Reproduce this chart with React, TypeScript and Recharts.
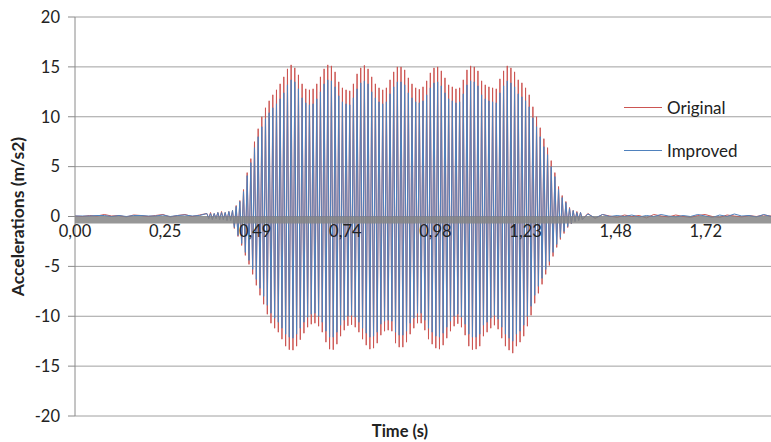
import React from 'react';
import {
  LineChart, Line, XAxis, YAxis, CartesianGrid, ReferenceLine, ReferenceDot, Legend,
} from 'recharts';

// ---- sampling grid of the excitation (s) ----
const ACTIVE_START = 0.36;   // first positive peak of the burst
const HALF_PERIOD = 0.005;   // peak -> trough spacing (~100 Hz)
const QUIET_STEP = 0.02;
const PRE_START = 0.0;
const POST_START = 1.40;

// ---- x tick marks (category labels of the original) ----
const TICK_VALUES = [0, 0.246, 0.492, 0.738, 0.984, 1.23, 1.476, 1.722];
const TICK_LABELS = ['0,00', '0,25', '0,49', '0,74', '0,98', '1,23', '1,48', '1,72'];
const Y_TICKS = [-20, -15, -10, -5, 0, 5, 10, 15, 20];

// ---- quiet part before the burst ----
const preOriginal = [0.05, 0.0, 0.1, 0.05, 0.2, 0.05, 0.1, -0.05, 0.15, 0.1, 0.0, 0.1, 0.2, -0.05, 0.1, 0.2, 0.0, 0.15];
const preImproved = [0.05, 0.05, 0.05, 0.1, 0.1, 0.0, 0.1, 0.0, 0.1, 0.1, 0.05, 0.05, 0.15, 0.0, 0.1, 0.15, 0.05, 0.1];

// ---- burst: positive peaks / negative troughs per cycle ----
const originalPeaks = [
  0.3, 0.4, 0.3, 0.4, 0.5, 0.4, 0.5, 0.6, 1.1, 1.6,
  2.7, 4.4, 5.8, 7.5, 8.8, 10.0, 10.9, 11.6, 12.2, 12.7,
  13.3, 14.0, 14.8, 15.2, 14.9, 14.2, 13.3, 12.8, 12.7, 12.8,
  13.3, 14.0, 14.8, 15.2, 15.1, 14.5, 13.5, 12.9, 12.7, 12.6,
  13.3, 14.3, 14.9, 15.15, 14.8, 14.0, 13.3, 12.9, 12.7, 12.9,
  13.7, 14.5, 15.0, 15.0, 14.7, 13.9, 13.3, 12.9, 12.75, 13.0,
  13.6, 14.4, 14.9, 15.0, 14.6, 13.9, 13.2, 13.0, 12.8, 12.9,
  13.7, 14.7, 15.1, 15.0, 14.6, 13.6, 13.2, 13.0, 12.9, 12.8,
  13.8, 14.6, 15.1, 14.9, 14.5, 13.7, 13.4, 12.9, 12.2, 11.0,
  10.0, 8.9, 7.8, 6.9, 5.6, 4.4, 3.0, 2.1, 1.5, 0.9,
  0.6, 0.5, 0.4,
];
const originalTroughs = [
  -0.2, -0.3, -0.2, -0.3, -0.3, -0.4, -0.4, -1.2, -2.0, -2.9,
  -3.9, -4.8, -5.8, -6.9, -7.9, -8.8, -9.8, -10.7, -11.2, -11.6,
  -12.3, -13.0, -13.35, -13.4, -13.0, -12.35, -11.7, -11.1, -10.8, -10.7,
  -11.0, -11.6, -12.6, -13.3, -13.35, -12.8, -12.0, -11.4, -10.95, -10.85,
  -11.1, -11.6, -12.3, -12.9, -13.3, -13.2, -12.7, -11.9, -11.5, -11.4,
  -11.5, -12.7, -13.1, -13.1, -12.6, -11.8, -11.2, -10.7, -10.7, -11.4,
  -12.3, -12.8, -13.2, -13.3, -12.9, -12.2, -11.5, -11.0, -10.75, -11.1,
  -11.9, -13.0, -13.35, -13.3, -13.0, -12.0, -11.6, -11.2, -10.9, -11.3,
  -12.2, -13.0, -13.4, -13.7, -13.0, -12.6, -12.0, -11.0, -9.9, -8.7,
  -7.7, -6.8, -5.8, -4.9, -4.0, -3.1, -2.3, -1.7, -1.1, -0.75,
  -0.5, -0.4, -0.3,
];
const improvedPeaks = [
  0.3, 0.3, 0.3, 0.4, 0.4, 0.4, 0.5, 0.6, 1.0, 1.5,
  2.5, 4.1, 5.4, 6.9, 8.0, 9.0, 9.8, 10.4, 10.9, 11.3,
  11.8, 12.4, 13.2, 13.7, 13.5, 12.8, 11.9, 11.4, 11.2, 11.3,
  11.8, 12.5, 13.3, 13.7, 13.6, 13.0, 12.1, 11.5, 11.3, 11.2,
  11.9, 12.8, 13.4, 13.6, 13.3, 12.5, 11.9, 11.5, 11.3, 11.5,
  12.3, 13.0, 13.5, 13.5, 13.2, 12.4, 11.9, 11.5, 11.4, 11.6,
  12.2, 12.9, 13.4, 13.5, 13.1, 12.4, 11.8, 11.6, 11.4, 11.5,
  12.3, 13.2, 13.6, 13.5, 13.1, 12.2, 11.8, 11.6, 11.5, 11.4,
  12.4, 13.1, 13.6, 13.4, 13.0, 12.3, 12.0, 11.6, 11.0, 9.9,
  9.0, 8.0, 7.0, 6.2, 5.0, 4.0, 2.7, 1.9, 1.4, 0.8,
  0.6, 0.4, 0.4,
];
const improvedTroughs = [
  -0.2, -0.3, -0.2, -0.3, -0.3, -0.4, -0.4, -1.1, -1.9, -2.7,
  -3.6, -4.4, -5.3, -6.3, -7.2, -8.0, -8.9, -9.7, -10.2, -10.6,
  -11.2, -11.8, -12.1, -12.2, -11.8, -11.2, -10.6, -10.1, -9.8, -9.7,
  -10.0, -10.6, -11.5, -12.1, -12.1, -11.6, -10.9, -10.4, -10.0, -9.9,
  -10.1, -10.6, -11.2, -11.7, -12.1, -12.0, -11.6, -10.8, -10.5, -10.4,
  -10.5, -11.6, -11.9, -11.9, -11.5, -10.7, -10.2, -9.7, -9.7, -10.4,
  -11.2, -11.6, -12.0, -12.1, -11.7, -11.1, -10.5, -10.0, -9.8, -10.1,
  -10.8, -11.8, -12.1, -12.1, -11.8, -10.9, -10.6, -10.2, -9.9, -10.3,
  -11.1, -11.8, -12.2, -12.5, -11.8, -11.5, -10.9, -10.0, -9.0, -7.9,
  -7.0, -6.2, -5.3, -4.5, -3.6, -2.8, -2.1, -1.5, -1.0, -0.7,
  -0.5, -0.4, -0.3,
];

// ---- quiet part after the burst ----
const postOriginal = [0.3, -0.2, 0.2, 0.05, -0.1, 0.15, 0.0, 0.1, -0.15, 0.2, 0.05, -0.05, 0.15, 0.0, -0.1, 0.1, 0.2, 0.0, -0.1, 0.15, 0.05, -0.05, 0.1, 0.0, 0.15, 0.05];
const postImproved = [0.25, -0.15, 0.2, 0.0, 0.1, 0.0, 0.15, -0.05, 0.1, 0.0, 0.2, 0.05, -0.05, 0.1, 0.0, 0.2, 0.05, -0.1, 0.15, 0.0, 0.25, 0.05, 0.1, -0.05, 0.2, 0.0];

type Row = { t: number; original: number; improved: number };
const data: Row[] = [];
preOriginal.forEach((v, i) => {
  data.push({ t: +(PRE_START + i * QUIET_STEP).toFixed(4), original: v, improved: preImproved[i] });
});
originalPeaks.forEach((v, k) => {
  data.push({ t: +(ACTIVE_START + 2 * k * HALF_PERIOD).toFixed(4), original: v, improved: improvedPeaks[k] });
  data.push({ t: +(ACTIVE_START + (2 * k + 1) * HALF_PERIOD).toFixed(4), original: originalTroughs[k], improved: improvedTroughs[k] });
});
postOriginal.forEach((v, i) => {
  data.push({ t: +(POST_START + i * QUIET_STEP).toFixed(4), original: v, improved: postImproved[i] });
});

const RED = '#cc5552';
const BLUE = '#4f81bd';
const FONT = 'Lato, "Open Sans", sans-serif';

const LegendBox = () => (
  <div style={{ fontFamily: FONT, fontSize: 17, color: '#222' }}>
    {[{ name: 'Original', color: RED }, { name: 'Improved', color: BLUE }].map((e) => (
      <div key={e.name} style={{ display: 'flex', alignItems: 'center', height: 43 }}>
        <div style={{ width: 38, height: 0, borderTop: `1.5px solid ${e.color}`, marginRight: 5 }} />
        <span>{e.name}</span>
      </div>
    ))}
  </div>
);

const YTitle = (props: any) => {
  const vb = props.viewBox;
  const cx = vb.x + 17;
  const cy = vb.y + vb.height / 2;
  return (
    <text x={cx} y={cy} transform={`rotate(-90, ${cx}, ${cy})`} textAnchor="middle" dominantBaseline="central"
      fontFamily={FONT} fontWeight="bold" fontSize={17.5} fill="#222">
      Accelerations (m/s2)
    </text>
  );
};

const XTitle = (props: any) => {
  const vb = props.viewBox;
  return (
    <text x={vb.x + 325} y={vb.y + vb.height - 5} textAnchor="middle"
      fontFamily={FONT} fontWeight="bold" fontSize={16.5} fill="#222">
      Time (s)
    </text>
  );
};

export default function App() {
  return (
    <div style={{ position: 'absolute', left: 0, top: 0, width: 771, height: 442, background: '#fff' }}>
      <LineChart width={771} height={442} data={data} margin={{ top: 17, right: 0, bottom: 0, left: 0 }}>
        <CartesianGrid vertical={false} stroke="#a0a0a0" strokeWidth={1} />
        <XAxis type="number" dataKey="t" domain={[0, 1.9]} allowDataOverflow height={26}
          tick={false} tickLine={false} axisLine={false} label={<XTitle />} />
        <YAxis type="number" domain={[-20, 20]} ticks={Y_TICKS} width={75} interval={0}
          axisLine={{ stroke: '#8a8a8a' }} tickLine={{ stroke: '#8a8a8a' }} tickSize={7} tickMargin={8}
          tick={{ fontFamily: FONT, fontSize: 16.5, fill: '#222' }} label={<YTitle />} />
        <Line type="linear" dataKey="original" name="Original" stroke={RED} strokeWidth={1}
          dot={false} isAnimationActive={false} />
        <Line type="linear" dataKey="improved" name="Improved" stroke={BLUE} strokeWidth={1}
          dot={false} isAnimationActive={false} />
        <ReferenceLine y={-0.35} stroke="#858585" strokeWidth={7} strokeOpacity={0.85} ifOverflow="visible" />
        {TICK_VALUES.map((v, i) => (
          <ReferenceDot key={v} x={v} y={0} r={0} stroke="none" fill="none" ifOverflow="visible"
            label={{ value: TICK_LABELS[i], position: 'bottom', offset: 9, fontFamily: FONT, fontSize: 16.5, fill: '#222' }} />
        ))}
        <Legend layout="horizontal" verticalAlign="middle" align="center" content={<LegendBox />}
          wrapperStyle={{ position: 'absolute', left: 624, top: 86, width: 'auto' }} />
      </LineChart>
    </div>
  );
}
